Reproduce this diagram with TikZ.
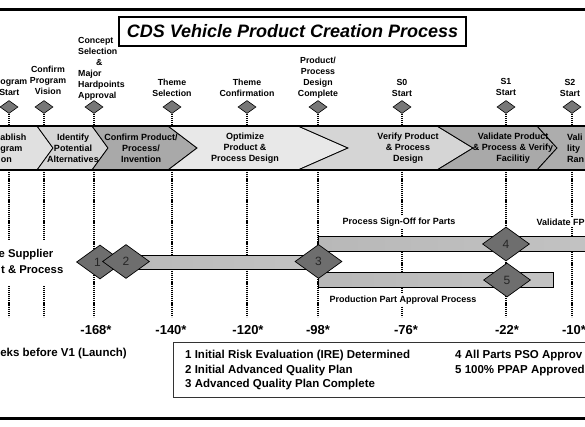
\documentclass[tikz,border=0pt]{standalone}
\usepackage{fontspec}
\setmainfont{Liberation Sans}
\usetikzlibrary{shapes.geometric}
\definecolor{msgray}{HTML}{777777}
\definecolor{dgray}{HTML}{6E6E6E}
\definecolor{seglight}{HTML}{E0E0E0}
\definecolor{segdark}{HTML}{A9A9A9}
\definecolor{barA}{HTML}{B8B8B8}
\definecolor{barB}{HTML}{E6E6E6}
\begin{document}
\begin{tikzpicture}[x=1pt,y=-1pt,
  msdia/.style={diamond, draw=black, fill=msgray, minimum width=18pt, minimum height=13pt, inner sep=0pt, line width=0.6pt},
  bigdia/.style={diamond, draw=black, fill=dgray, minimum width=47pt, minimum height=34pt, inner sep=0pt, line width=0.7pt},
  dotline/.style={line width=1.2pt, dash pattern=on 1.2pt off 0.9pt},
  mlabel/.style={font=\fontsize{8.8}{11}\selectfont\bfseries, align=center, inner sep=0pt, anchor=south, text depth=0pt},
  blabel/.style={font=\fontsize{9}{11}\selectfont\bfseries, align=center, inner sep=0pt},
  barlabel/.style={font=\fontsize{9}{11}\selectfont\bfseries, inner sep=1.5pt, fill=white},
  numlabel/.style={font=\fontsize{13}{15}\selectfont\bfseries, inner sep=0pt},
  leglabel/.style={font=\fontsize{11.5}{14}\selectfont\bfseries, inner sep=0pt, anchor=west},
  suplabel/.style={font=\fontsize{11.3}{14}\selectfont\bfseries, inner sep=0pt, anchor=base east},
  edgelabel/.style={font=\fontsize{9}{11}\selectfont\bfseries, inner sep=0pt, anchor=base east},
  diatext/.style={font=\fontsize{12}{14}\selectfont, text=black!85, inner sep=0pt},
  segline/.style={draw=black, line width=0.8pt},
  bar/.style={draw=black, line width=1pt, left color=barA, middle color=barB, right color=barA!85}
]
\useasboundingbox (0,0) rectangle (585,427);
\clip (0,0) rectangle (585,427);
\fill[white] (0,0) rectangle (585,427);

% frame lines
\draw[line width=3pt] (-5,10) -- (590,10);
\draw[line width=3pt] (-5,418.5) -- (590,418.5);

% title
\node[draw=black, line width=2pt, minimum width=347pt, minimum height=29pt, inner sep=0pt,
  font=\fontsize{18}{20}\selectfont\bfseries\itshape] (title) at (292.5,31.5) {CDS Vehicle Product Creation Process};

% milestones with dotted lines
\foreach \n/\x in {ps/9, cpv/44, cs/94, ts/172, tc/247, pdc/318, s0/402, s1/506, s2/572}{
  \node[msdia] (m\n) at (\x,107) {};
  \coordinate (t\n) at (\x,126);
  \coordinate (u\n) at (\x,170);
  \coordinate (v\n) at (\x,317);
  \draw[dotline] (m\n.south) -- (t\n);
  \draw[dotline] (u\n) -- (v\n);
}

% milestone labels
\node[edgelabel, font=\fontsize{8.8}{11}\selectfont\bfseries] (lps1) at (27.5,84.5) {ogram};
\node[edgelabel, font=\fontsize{8.8}{11}\selectfont\bfseries] (lps2) at (19.5,95.5) {Start};
\node[mlabel] (lcpv) at (48,95) {Confirm\\Program\\Vision};
\node[font=\fontsize{8.8}{11}\selectfont\bfseries, align=left, inner sep=0pt, anchor=south west, text depth=0pt] (lcs) at (78,99) {Concept\\Selection\\\hspace*{18pt}\&\\Major\\Hardpoints\\Approval};
\node[mlabel] (lts) at (172,96.5) {Theme\\Selection};
\node[mlabel] (ltc) at (247,96.5) {Theme\\Confirmation};
\node[mlabel] (lpdc) at (318,96.5) {Product/\\Process\\Design\\Complete};
\node[mlabel] (ls0) at (402,97) {S0\\Start};
\node[mlabel] (ls1) at (506,96) {S1\\Start};
\node[mlabel] (ls2) at (570,96.5) {S2\\Start};

% band segments
\path[segline, fill=seglight] (-20,126)--(37,126)--(53,148)--(37,170)--(-20,170)--cycle;
\path[segline, fill=seglight!95!black] (37,126)--(92,126)--(108,148)--(92,170)--(37,170)--(53,148)--cycle;
\path[segline, fill=segdark] (92,126)--(168,126)--(197,148)--(168,170)--(92,170)--(108,148)--cycle;
\path[segline, fill=seglight!75!white] (168,126)--(298,126)--(348,148)--(298,170)--(168,170)--(197,148)--cycle;
\path[segline, fill=seglight!95!black] (298,126)--(437,126)--(473,148)--(437,170)--(298,170)--(348,148)--cycle;
\path[segline, fill=segdark] (437,126)--(537,126)--(557,148)--(537,170)--(437,170)--(473,148)--cycle;
\path[segline, fill=segdark!95!white] (537,126)--(620,126)--(620,170)--(537,170)--(557,148)--cycle;
\draw[line width=1.4pt] (-5,126) -- (590,126);
\draw[line width=1.4pt] (-5,170) -- (590,170);

% band labels
\node[edgelabel] (b1a) at (26.5,140.5) {ablish};
\node[edgelabel] (b1b) at (22.5,151.5) {gram};
\node[edgelabel] (b1c) at (12,162.5) {on};
\node[blabel] (b2) at (73,148) {Identify\\Potential\\Alternatives};
\node[blabel] (b3) at (141,148) {Confirm Product/\\Process/\\Invention};
\node[blabel] (b4) at (245,148) {Optimize\\Product \&\\Process Design};
\node[blabel] (b5) at (408,148) {Verify Product\\\& Process\\Design};
\node[blabel] (b6) at (513,148) {Validate Product\\\& Process \& Verify\\Facilitiy};
\node[blabel, align=left, anchor=west] (b7) at (567,148) {Vali\\lity\\Ran};

% left text (white ground hides the dotted lines behind it)
\fill[white] (-5,240) rectangle (66,286);
\node[suplabel] (sup1) at (53.5,258) {e Supplier};
\node[suplabel] (sup2) at (63.5,273) {t \& Process};

% bars
\path[bar] (100,255) rectangle (318,269);
\path[bar] (318,237) rectangle (600,251);
\path[bar] (318,272) rectangle (553,287);

% bar labels
\node[barlabel] (psop) at (399,222) {Process Sign-Off for Parts};
\node[barlabel, anchor=west] (vfp) at (535,222) {Validate FP};
\node[barlabel] (ppap) at (403,300) {Production Part Approval Process};

% big diamonds
\node[bigdia] (d1) at (100,262) {};
\node[bigdia] (d2) at (126,261.5) {};
\node[diatext] (n1) at (97.5,262) {1};
\node[diatext] at (d2) {2};
\node[bigdia] (d3) at (318.5,261.5) {};
\node[diatext] at (d3) {3};
\node[bigdia] (d4) at (506,244) {};
\node[diatext] at (d4) {4};
\node[bigdia] (d5) at (507,280) {};
\node[diatext] at (d5) {5};

% week numbers
\node[numlabel] (w168) at (96,330) {-168*};
\node[numlabel] (w140) at (171,330) {-140*};
\node[numlabel] (w120) at (248,330) {-120*};
\node[numlabel] (w98) at (318,330) {-98*};
\node[numlabel] (w76) at (406,330) {-76*};
\node[numlabel] (w22) at (507,330) {-22*};
\node[numlabel] (w10) at (574,330) {-10*};

\node[font=\fontsize{11.5}{14}\selectfont\bfseries, inner sep=0pt, anchor=east] (weeks) at (127,354) {eks before V1 (Launch)};

% legend
\draw[line width=0.8pt, draw=black!80] (173,342) rectangle (600,397);
\node[leglabel] (l1) at (185,356) {1 Initial Risk Evaluation (IRE) Determined};
\node[leglabel] (l2) at (185,370.5) {2 Initial Advanced Quality Plan};
\node[leglabel] (l3) at (185,385) {3 Advanced Quality Plan Complete};
\node[leglabel] (l4) at (455,356) {4 All Parts PSO Approv};
\node[leglabel] (l5) at (455,370.5) {5 100\% PPAP Approved};
\end{tikzpicture}
\end{document}
